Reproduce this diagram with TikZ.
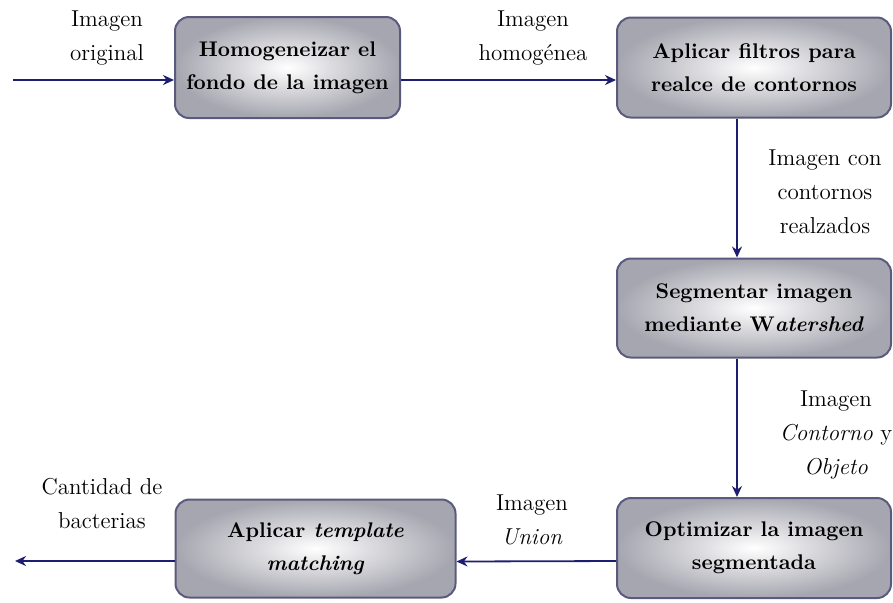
\documentclass[tikz,border=0pt]{standalone}
\usetikzlibrary{arrows.meta}
\definecolor{boxgray}{HTML}{A6A6B0}
\definecolor{boxborder}{HTML}{5A5A7E}
\definecolor{arrowblue}{HTML}{1E1E70}
\begin{document}
\begin{tikzpicture}[x=0.5pt,y=-0.5pt]
      \tikzstyle{process} = [rectangle, rounded corners=7pt, draw=boxborder, line width=1pt, inner color=white, outer color=boxgray, align=center, inner sep=0pt, font=\fontsize{10.6}{16.5}\selectfont\bfseries]
      \tikzstyle{datalabel} = [align=center, inner sep=0pt, font=\fontsize{11.5}{17}\selectfont]
      \tikzstyle{arrow} = [line width=0.9pt, draw=arrowblue, fill=arrowblue, ->, >={Stealth[length=5.5pt,width=5pt]}]

      \useasboundingbox (0,0) rectangle (893,602);

      \node (homog) [process, minimum width=112.5pt, minimum height=50.5pt] at (287.5,67.5) {Homogeneizar el\\fondo de la imagen};
      \node (filtros) [process, minimum width=137pt, minimum height=50pt] at (754,67.5) {Aplicar filtros para\\realce de contornos};
      \node (segment) [process, minimum width=137pt, minimum height=49.5pt] at (754,308) {Segmentar imagen\\mediante W\textit{atershed}};
      \node (optim) [process, minimum width=137pt, minimum height=50pt] at (754,548) {Optimizar la imagen\\segmentada};
      \node (template) [process, minimum width=140pt, minimum height=49pt] at (315.5,548.5) {Aplicar \textit{template}\\\textit{matching}};

      \coordinate (input) at (13,80);
      \coordinate (output) at (15,561);

      \node (lbl-original) [datalabel] at (107,38) {Imagen\\original};
      \node (lbl-homog) [datalabel] at (533,38) {Imagen\\homogénea};
      \node (lbl-realce) [datalabel] at (825,192) {Imagen con\\contornos\\realzados};
      \node (lbl-contorno) [datalabel] at (836,435) {Imagen\\\textit{Contorno} y\\\textit{Objeto}};
      \node (lbl-union) [datalabel] at (532,520) {Imagen\\\textit{Union}};
      \node (lbl-cantidad) [datalabel] at (102,503) {Cantidad de\\bacterias};

      \draw [arrow] (input) -- (input -| homog.west);
      \draw [arrow] ([yshift=-6.25pt]homog.east) -- ([yshift=-6.25pt]filtros.west);
      \draw [arrow] ([xshift=-8.5pt]filtros.south) -- ([xshift=-8.5pt]segment.north);
      \draw [arrow] ([xshift=-8.5pt]segment.south) -- ([xshift=-8.5pt]optim.north);
      \draw [arrow] ([yshift=-6.5pt]optim.west) -- ([yshift=-6.5pt]template.east);
      \draw [arrow] ([yshift=-6.25pt]template.west) -- (output);
    \end{tikzpicture}
\end{document}
